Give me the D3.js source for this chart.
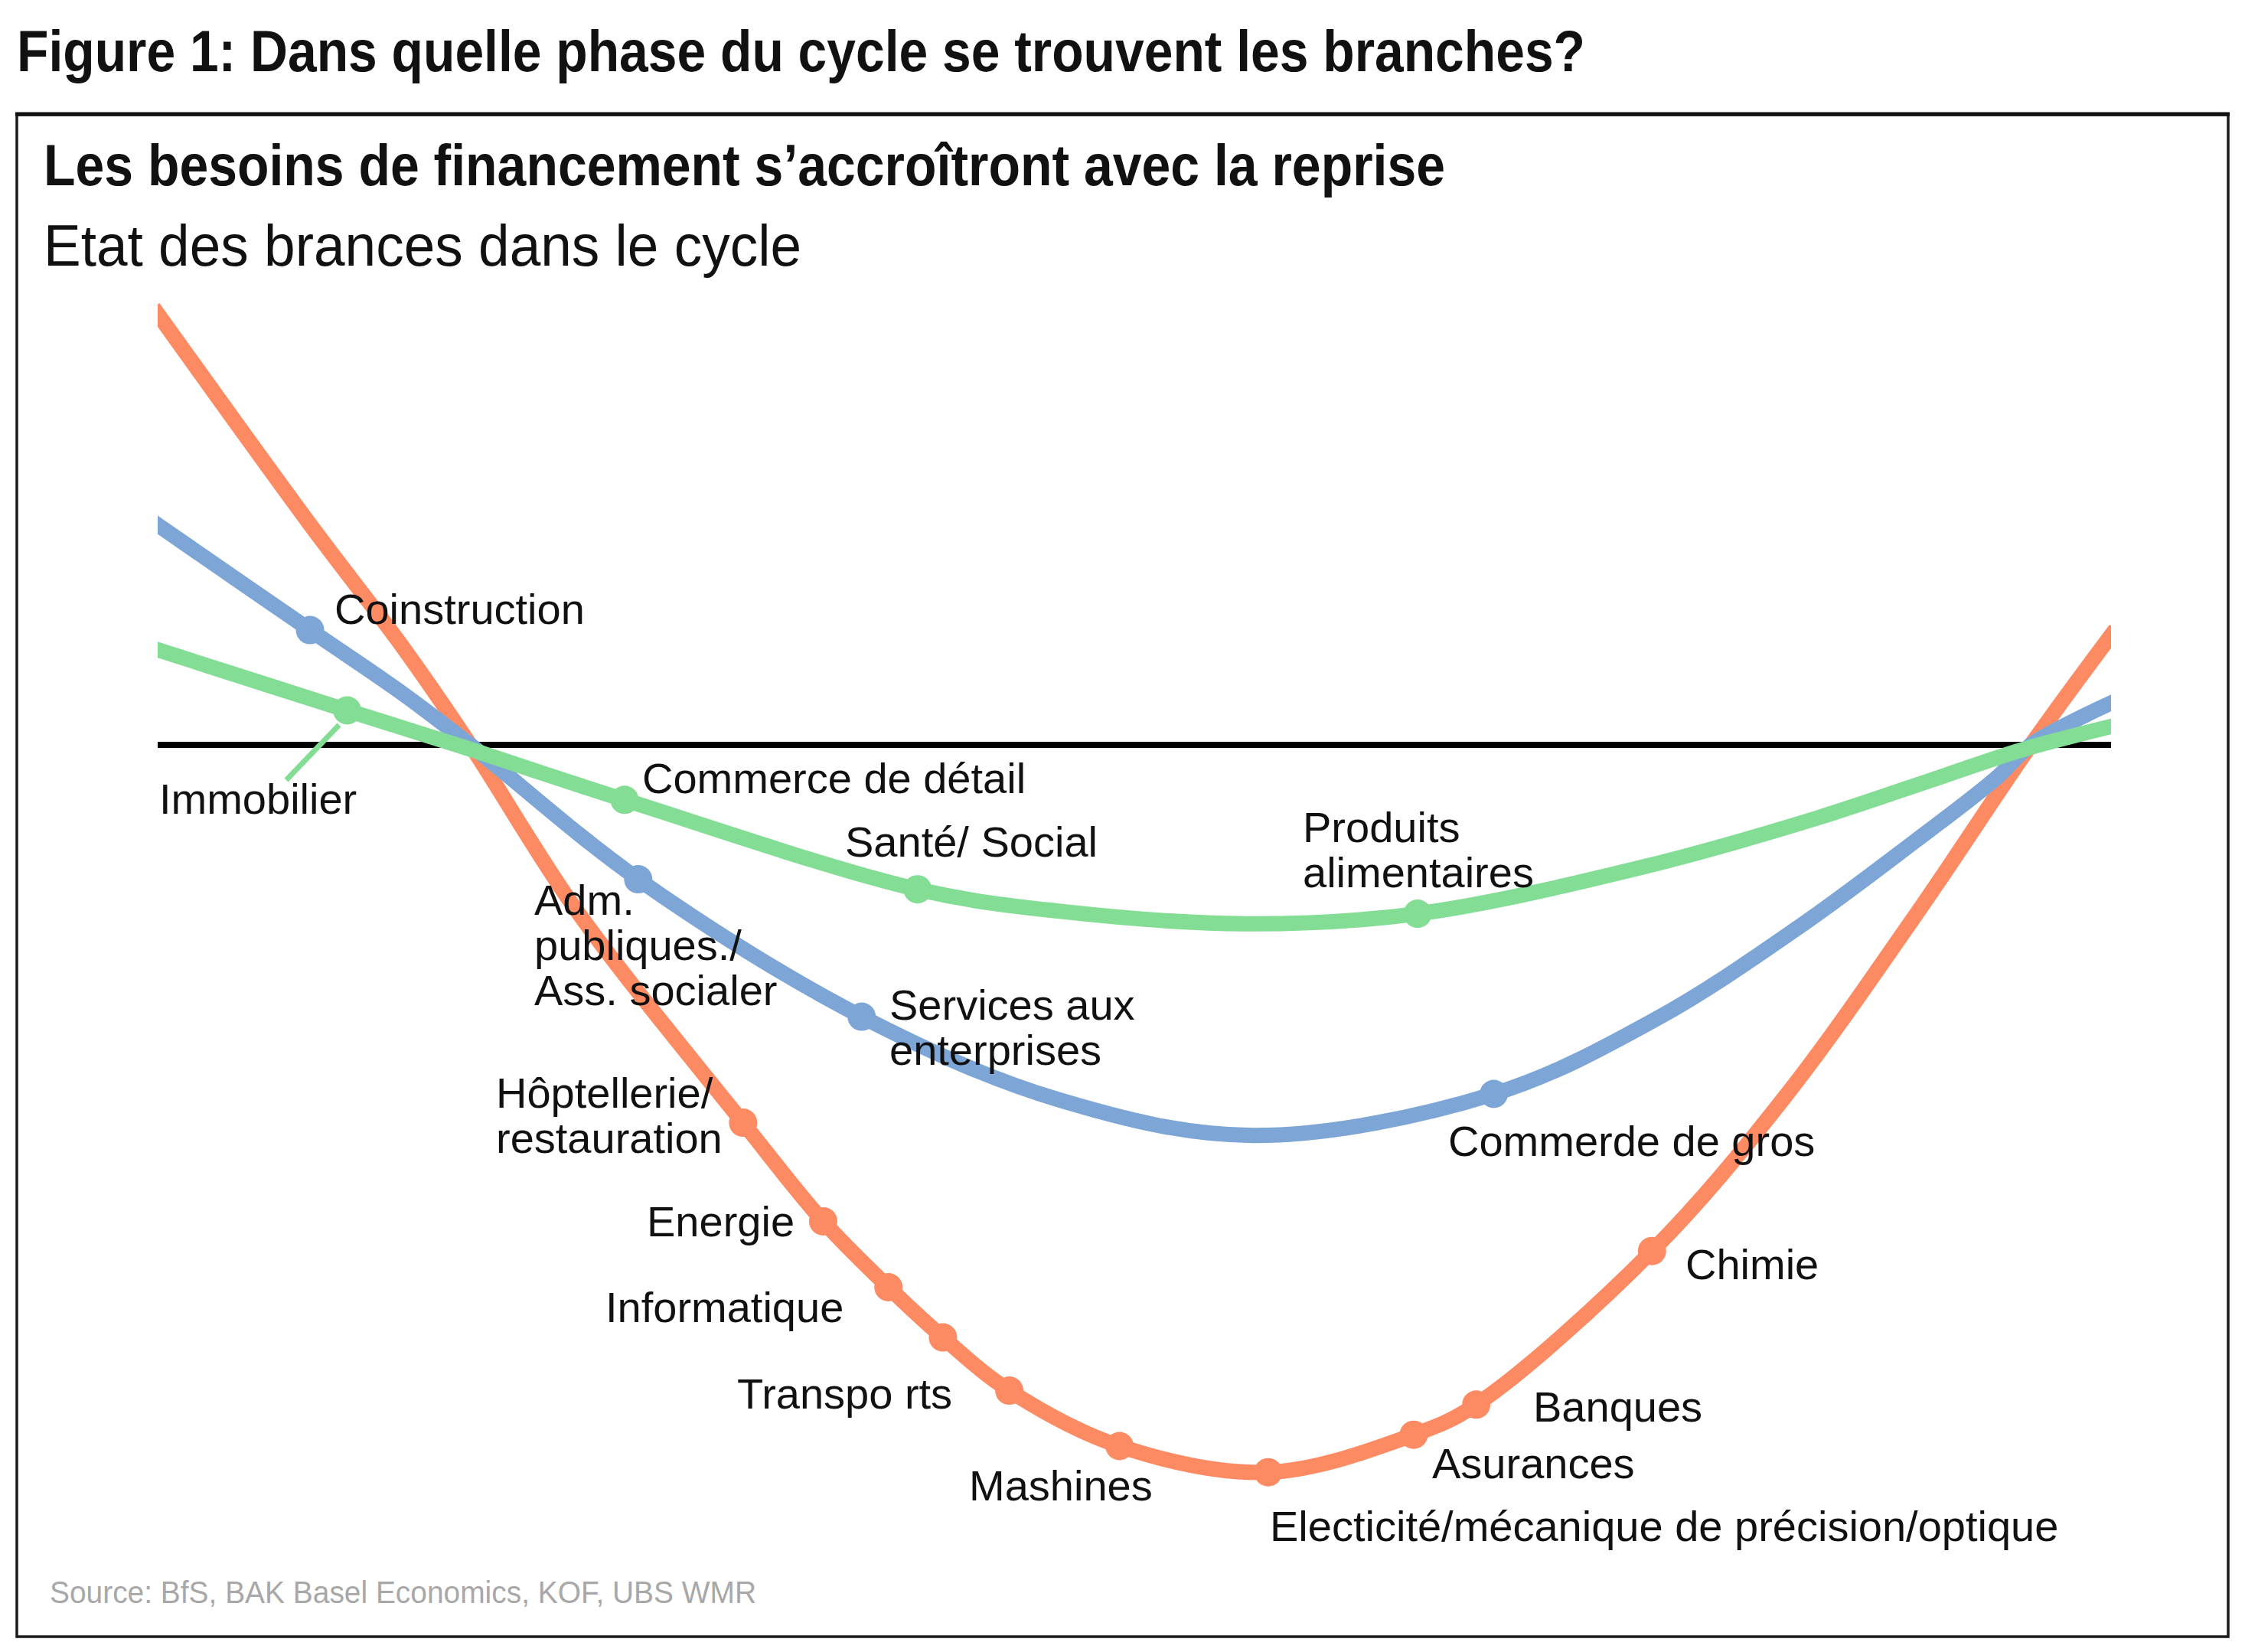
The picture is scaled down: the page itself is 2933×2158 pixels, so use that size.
<!DOCTYPE html>
<html>
<head>
<meta charset="utf-8">
<script src="https://cdn.jsdelivr.net/npm/d3@7"></script>
<style>
  body { margin: 0; background: #fff; }
</style>
</head>
<body>
<div id="chart"></div>
<script>
// Position in the cycle (x, 0-100) and deviation from trend (y).
// Curve shape points for each group of branches
var orangeX = [0, 7.9, 12.45, 16, 21.5, 83.3, 90, 95.9, 100];
var orangeY = [9.88, 4.99, 2.3, 0, -3.83, -8.07, -3.9, 0, 2.51];
var blueX = [0, 12.4, 16, 46.1, 56.06, 76.8, 84, 89.9, 94.1, 95.9, 100];
var blueY = [5.04, 1.22, 0, -8.13, -8.95, -6.26, -4.18, -2.23, -0.77, 0, 0.96];
var greenX = [0, 15.3, 46.1, 55.7, 76.2, 85, 91.5, 95.4, 100];
var greenY = [2.18, 0, -3.81, -4.1, -2.78, -1.67, -0.7, -0.12, 0.42];

// Branches marked on the curves
var orangeLabels = ["Hôptellerie/\nrestauration", "Energie", "Informatique", "", "Transpo rts",
  "Mashines", "Electicité/mécanique de précision/optique", "Asurances", "Banques", "Chimie"];
var orangeDotX = [29.97, 34.07, 37.41, 40.2, 43.6, 49.24, 56.85, 64.3, 67.5, 76.5];
var orangeDotY = [-8.66, -10.92, -12.43, -13.58, -14.8, -16.07, -16.67, -15.81, -15.12, -11.6];
var blueLabels = ["Coinstruction", "Adm.\npubliques./\nAss. socialer", "Services aux\nenterprises", "Commerde de gros"];
var blueDotX = [7.8, 24.6, 36.04, 68.4];
var blueDotY = [2.63, -3.08, -6.23, -8.0];
var greenLabels = ["Immobilier", "Commerce de détail", "Santé/ Social", "Produits\nalimentaires"];
var greenDotX = [9.7, 23.9, 38.9, 64.5];
var greenDotY = [0.79, -1.26, -3.31, -3.87];

var title = "Figure 1: Dans quelle phase du cycle se trouvent les branches?";
var chartTitle = "Les besoins de financement s\u2019accroîtront avec la reprise";
var chartSubtitle = "Etat des brances dans le cycle";
var source = "Source: BfS, BAK Basel Economics, KOF, UBS WMR";

// label anchor positions (left x, first baseline y) in page pixels
var labelPos = {
  "Coinstruction": [437, 815],
  "Immobilier": [208, 1063],
  "Commerce de détail": [839, 1036],
  "Santé/ Social": [1104, 1119],
  "Produits\nalimentaires": [1702, 1100],
  "Adm.\npubliques./\nAss. socialer": [698, 1195],
  "Services aux\nenterprises": [1162, 1332],
  "Hôptellerie/\nrestauration": [648, 1447],
  "Energie": [845, 1615],
  "Informatique": [791, 1727],
  "Transpo rts": [963, 1840],
  "Mashines": [1266, 1960],
  "Electicité/mécanique de précision/optique": [1659, 2013],
  "Asurances": [1871, 1931],
  "Banques": [2003, 1857],
  "Chimie": [2202, 1671],
  "Commerde de gros": [1892, 1510]
};

var svgWidth = 2933;
var svgHeight = 2158;
var lineHeight = 59;

var svg = d3.select("#chart")
  .append("svg")
  .attr("width", svgWidth)
  .attr("height", svgHeight);

var xScale = d3.scaleLinear().domain([0, 100]).range([206, 2758]);
var yScale = d3.scaleLinear().domain([-17, 10]).range([1942, 403]);

// shrink/stretch a text to a given width
function fitText(sel, width) {
  var len = sel.node().getComputedTextLength();
  if (len > 0) sel.attr("textLength", width).attr("lengthAdjust", "spacingAndGlyphs");
}

// outer frame
svg.append("rect")
  .attr("x", 22).attr("y", 150)
  .attr("width", 2889).attr("height", 1988)
  .attr("fill", "none")
  .attr("stroke", "#1a1a1a")
  .attr("stroke-width", 3.5);
svg.append("line")
  .attr("x1", 20).attr("x2", 2913)
  .attr("y1", 149).attr("y2", 149)
  .attr("stroke", "#111")
  .attr("stroke-width", 5);

// titles
var t1 = svg.append("text")
  .attr("x", 22).attr("y", 93)
  .attr("font-family", "'Liberation Sans Narrow', 'Arial Narrow', 'Liberation Sans', sans-serif")
  .attr("font-weight", "bold")
  .attr("font-size", 76)
  .attr("fill", "#111")
  .text(title);
fitText(t1, 2049);

var t2 = svg.append("text")
  .attr("x", 57).attr("y", 242)
  .attr("font-family", "'Liberation Sans Narrow', 'Arial Narrow', 'Liberation Sans', sans-serif")
  .attr("font-weight", "bold")
  .attr("font-size", 76)
  .attr("fill", "#111")
  .text(chartTitle);
fitText(t2, 1831);

var t3 = svg.append("text")
  .attr("x", 57).attr("y", 347)
  .attr("font-family", "'Liberation Sans Narrow', 'Arial Narrow', 'Liberation Sans', sans-serif")
  .attr("font-size", 76)
  .attr("fill", "#111")
  .text(chartSubtitle);
fitText(t3, 990);

var t4 = svg.append("text")
  .attr("x", 65).attr("y", 2094)
  .attr("font-family", "'Liberation Sans Narrow', 'Arial Narrow', 'Liberation Sans', sans-serif")
  .attr("font-size", 40)
  .attr("fill", "#a8a8a8")
  .text(source);
fitText(t4, 923);

// zero line
svg.append("line")
  .attr("x1", xScale(0)).attr("x2", xScale(100))
  .attr("y1", yScale(0)).attr("y2", yScale(0))
  .attr("stroke", "#000")
  .attr("stroke-width", 8);

svg.append("clipPath").attr("id", "plotClip")
  .append("rect")
  .attr("x", xScale(0)).attr("y", 0)
  .attr("width", xScale(100) - xScale(0)).attr("height", svgHeight);

var line = d3.line()
  .x(d => xScale(d[0]))
  .y(d => yScale(d[1]))
  .curve(d3.curveCatmullRom.alpha(0.5));

function buildSeries(xs, ys, dxs, dys) {
  var pts = xs.map((v, i) => [v, ys[i]]).concat(dxs.map((v, i) => [v, dys[i]]));
  pts.sort((a, b) => a[0] - b[0]);
  return pts;
}

var series = [
  { color: "#fc8b64", pts: buildSeries(orangeX, orangeY, orangeDotX, orangeDotY), dx: orangeDotX, dy: orangeDotY, labels: orangeLabels },
  { color: "#7da6d6", pts: buildSeries(blueX, blueY, blueDotX, blueDotY), dx: blueDotX, dy: blueDotY, labels: blueLabels },
  { color: "#84dd95", pts: buildSeries(greenX, greenY, greenDotX, greenDotY), dx: greenDotX, dy: greenDotY, labels: greenLabels }
];

var curves = svg.append("g").attr("clip-path", "url(#plotClip)");

series.forEach(function(s) {
  curves.append("path")
    .datum(s.pts)
    .attr("d", line)
    .attr("fill", "none")
    .attr("stroke", s.color)
    .attr("stroke-width", 20)
    .attr("stroke-linecap", "square")
    .attr("stroke-linejoin", "round");
});

series.forEach(function(s) {
  svg.append("g")
    .selectAll("circle")
    .data(s.dx)
    .enter()
    .append("circle")
    .attr("cx", d => xScale(d))
    .attr("cy", (d, i) => yScale(s.dy[i]))
    .attr("r", 18.5)
    .attr("fill", s.color);
});

// leader line for Immobilier
svg.append("line")
  .attr("x1", 374).attr("y1", 1019)
  .attr("x2", 443).attr("y2", 947)
  .attr("stroke", "#84dd95")
  .attr("stroke-width", 7);

// branch labels
var labelGroup = svg.append("g")
  .attr("font-family", "'Liberation Sans', Arial, sans-serif")
  .attr("font-size", 56)
  .attr("fill", "#111");

series.forEach(function(s) {
  s.labels.forEach(function(lab) {
    if (!lab) return;
    var p = labelPos[lab];
    var txt = labelGroup.append("text")
      .attr("x", p[0])
      .attr("y", p[1]);
    lab.split("\n").forEach(function(part, i) {
      txt.append("tspan")
        .attr("x", p[0])
        .attr("dy", i === 0 ? 0 : lineHeight)
        .text(part);
    });
  });
});
</script>
</body>
</html>
